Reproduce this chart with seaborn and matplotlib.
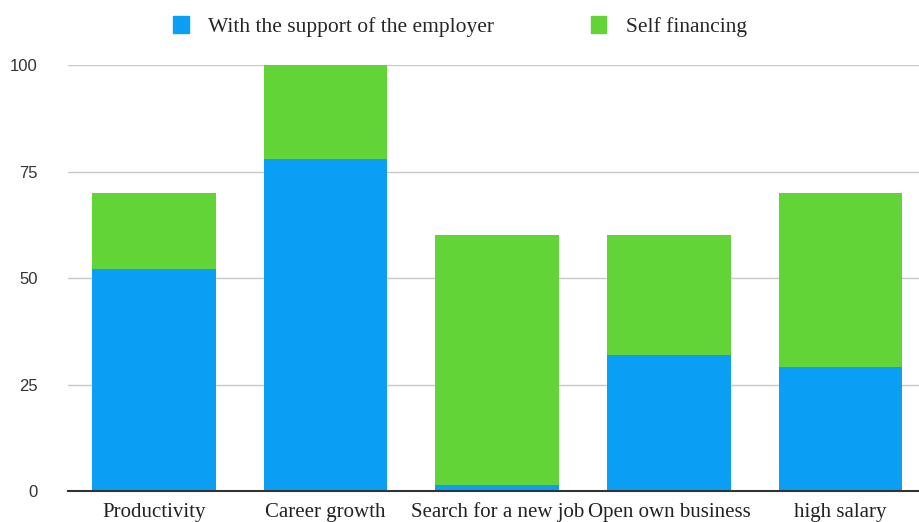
import numpy as np
import pandas as pd
import seaborn as sns
import matplotlib.pyplot as plt
from matplotlib.patches import Patch

categories = ['Productivity', 'Career growth', 'Search for a new job', 'Open own business', 'high salary']
employer = [52, 78, 1.5, 32, 29]
self_fin = [18, 22, 58.5, 28, 41]

blue = '#0A9FF5'
green = '#62D438'

df = pd.DataFrame({'category': categories, 'employer': employer, 'self': self_fin})
df['total'] = df['employer'] + df['self']

sns.set_style('white')
plt.rcParams['font.family'] = ['Liberation Sans', 'DejaVu Sans']

fig = plt.figure(figsize=(9.2, 5.22), dpi=100)
ax = fig.add_axes([0.074, 0.0594, 0.933, 0.816])

sns.barplot(data=df, x='category', y='total', color=green, width=0.72,
            saturation=1, linewidth=0, ax=ax, zorder=2)
sns.barplot(data=df, x='category', y='employer', color=blue, width=0.72,
            saturation=1, linewidth=0, ax=ax, zorder=3)

ax.set_xlim(-0.5, 4.5)
ax.set_ylim(0, 100)
ax.set_yticks([0, 25, 50, 75, 100])
ax.yaxis.grid(True, color='#c8c8c8', linewidth=1, zorder=0)
ax.set_axisbelow(True)
for s in ['top', 'right', 'left']:
    ax.spines[s].set_visible(False)
ax.spines['bottom'].set_color('#333333')
ax.spines['bottom'].set_linewidth(1.5)
ax.spines['bottom'].set_zorder(5)
ax.set_xlabel('')
ax.set_ylabel('')
ax.tick_params(axis='y', length=0, pad=22, labelsize=12, labelcolor='#333333')
ax.tick_params(axis='x', length=0, pad=19, labelsize=15, labelcolor='#222222')
for lbl in ax.get_xticklabels():
    lbl.set_fontfamily('Liberation Serif')
    lbl.set_verticalalignment('baseline')

handles = [Patch(color=blue, label='With the support of the employer'),
           Patch(color=green, label='Self financing')]
fig.legend(handles=handles, loc='center', bbox_to_anchor=(0.5, 0.95), ncol=2,
           frameon=False, handlelength=0.72, handleheight=0.85, handletextpad=0.9,
           columnspacing=4.5, prop={'family': 'Liberation Serif', 'size': 15.5})

fig.savefig('out.png', dpi=100)
